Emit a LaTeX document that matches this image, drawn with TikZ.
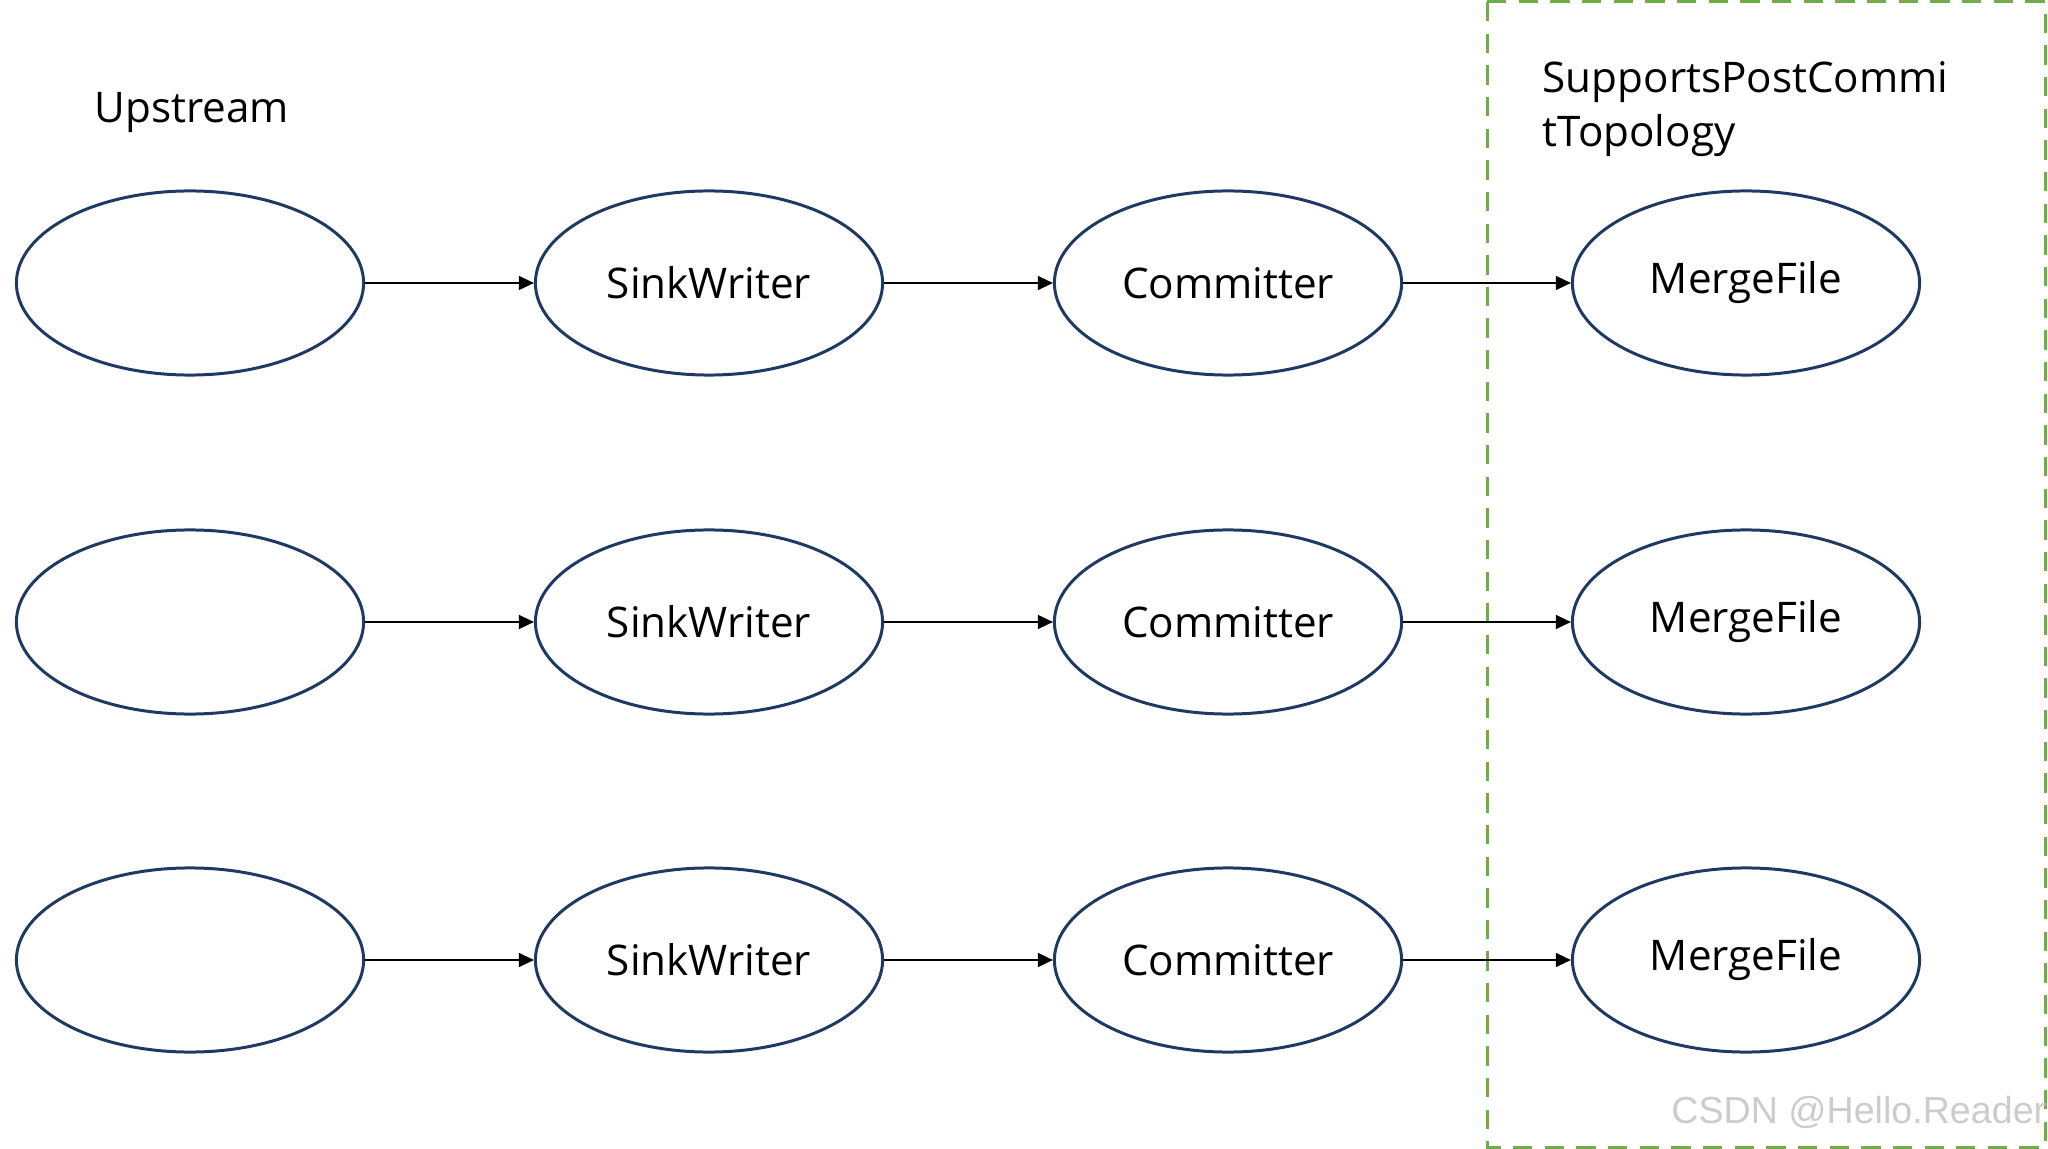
\documentclass[tikz,border=0pt]{standalone}
\usepackage{fontspec}
\setmainfont{Open Sans}
\newfontfamily\wmfont{Liberation Sans}
\usetikzlibrary{shapes.geometric,arrows.meta}
\definecolor{navy}{HTML}{1F3864}
\definecolor{grn}{HTML}{70AD47}
\begin{document}
\begin{tikzpicture}[x=0.01cm, y=-0.01cm, >={Triangle[length=4.3pt,width=4pt]},
  font=\fontsize{12pt}{15.6pt}\selectfont,
  op/.style={draw=navy, line width=0.85pt, ellipse, minimum width=3.47cm, minimum height=1.84cm, inner sep=0pt},
  flow/.style={->, line width=0.45pt}]
  \useasboundingbox (0,0) rectangle (2048,1149);
  % post-commit region
  \draw[grn, line width=0.85pt, dash pattern=on 5.5pt off 3.5pt] (1487,2) rectangle (2045,1147);
  \node[anchor=base west, inner sep=0pt] (up) at (94,123) {Upstream};
  \node[anchor=base west, align=left, inner sep=0pt] (spc) at (1542,147) {SupportsPostCommi\\tTopology};
  % three parallel pipelines
  \foreach \r/\y in {1/283,2/622,3/960}{
    \node[op] (u\r) at (190,\y) {};
    \node[op] (w\r) at (709,\y) {SinkWriter};
    \node[op] (c\r) at (1228,\y) {Committer};
    \node[op] (m\r) at (1746,\y) {MergeFile};
    \draw[flow] (u\r)--(w\r); \draw[flow] (w\r)--(c\r); \draw[flow] (c\r)--(m\r);
  }
  \node[anchor=base east, inner sep=0pt, text=gray!40, font=\wmfont\fontsize{10.7pt}{12pt}\selectfont] (wm) at (2047,1123) {CSDN @Hello.Reader};
\end{tikzpicture}
\end{document}
